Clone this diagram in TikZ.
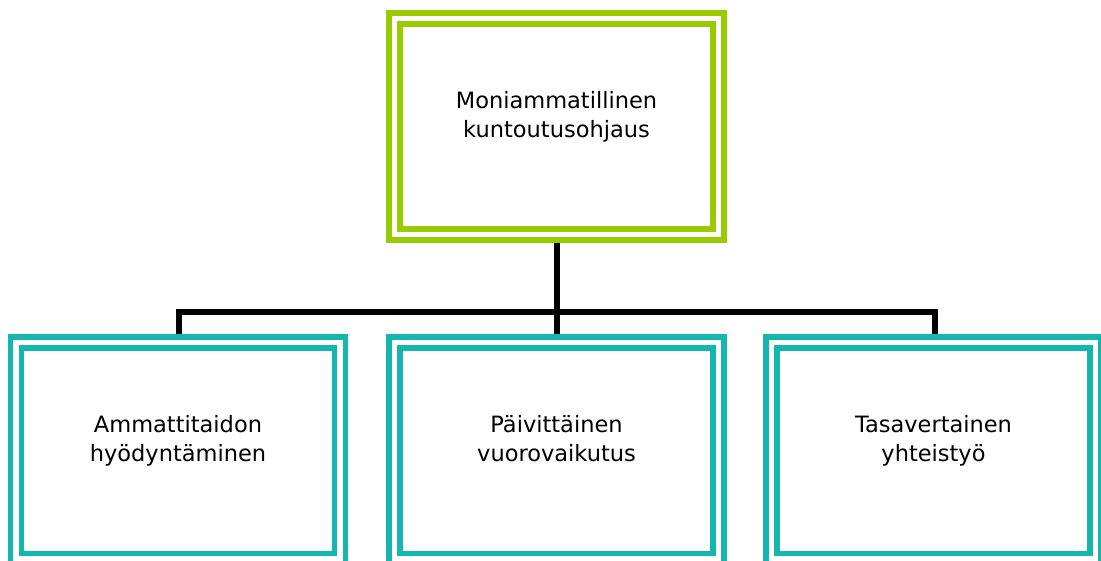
\documentclass[tikz,border=0pt]{standalone}
\usepackage{fontspec}
\setmainfont{DejaVu Sans}
\usetikzlibrary{backgrounds}
\definecolor{limegreen}{RGB}{153,204,0}
\definecolor{tealbox}{RGB}{20,182,174}
\tikzset{
  framebox/.style={draw=#1, fill=white, double=white, line width=5.5pt,
    double distance=5.5pt, minimum width=324pt, minimum height=216pt,
    inner sep=0pt, outer sep=0pt},
  boxtext/.style={align=center, font=\fontsize{22.5}{29}\selectfont,
    text depth=5pt, inner sep=0pt},
  link/.style={draw=black, line width=6pt}
}
\begin{document}
\begin{tikzpicture}[x=1pt, y=-1pt]
  \useasboundingbox (0,0) rectangle (1101,561);
  \clip (0,0) rectangle (1101,561);

  % boxes
  \node[framebox=limegreen] (top) at (556.5,126.5) {};
  \node[framebox=tealbox] (left) at (178,450.75) {};
  \node[framebox=tealbox] (mid) at (556.5,450.75) {};
  \node[framebox=tealbox] (right) at (933.5,450.75) {};

  % captions
  \node[boxtext] (topt) at ([yshift=10pt]top.center) {Moniammatillinen\\kuntoutusohjaus};
  \node[boxtext] (leftt) at ([yshift=10pt]left.center) {Ammattitaidon\\hyödyntäminen};
  \node[boxtext] (midt) at ([yshift=10pt]mid.center) {Päivittäinen\\vuorovaikutus};
  \node[boxtext] (rightt) at ([yshift=10pt]right.center) {Tasavertainen\\yhteistyö};

  % tree connectors
  \coordinate (bus) at (556.5,312.5);
  \begin{scope}[on background layer]
    \draw[link] (top.center) -- (mid.center);
    \draw[link] ([xshift=1pt]left.center) -- ([xshift=1pt]left.center |- bus)
      -- ([xshift=1pt]right.center |- bus) -- ([xshift=1pt]right.center);
  \end{scope}
\end{tikzpicture}
\end{document}
